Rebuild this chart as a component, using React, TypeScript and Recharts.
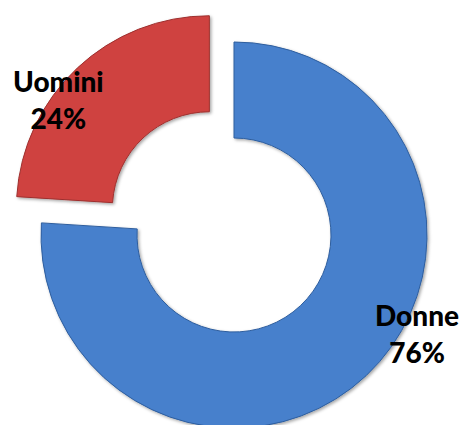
import { PieChart, Pie, Cell } from "recharts";

const categories = ["Donne", "Uomini"];
const shares = [76, 24];

const colors = ["#4680cc", "#cf4341"];
const edges = ["#2f5e9e", "#9e302e"];

// label offsets from each ring's centre (px)
const labelPos: Record<string, [number, number]> = {
    Donne: [183, 97],
    Uomini: [-151, -111],
};

const data = categories.map((name, i) => ({ name, value: shares[i] }));

const CX = 234;
const CY = 235;
const EXPLODE = 36;

function renderLabel(props: any) {
    const { cx, cy, name, percent } = props;
    const [dx, dy] = labelPos[name];
    return (
        <text
            x={cx + dx}
            y={cy + dy}
            textAnchor="middle"
            fill="#000"
            fontFamily="Lato, 'Open Sans', sans-serif"
            fontWeight={900}
            fontSize={28}
        >
            <tspan x={cx + dx} dy={-6}>{name}</tspan>
            <tspan x={cx + dx} dy={37}>{Math.round(percent * 100)}%</tspan>
        </text>
    );
}

export default function App() {
    // mid angle of the second slice, used to push it outwards
    const mid = 90 - 360 * (shares[0] + shares[1] / 2) / 100;
    const rad = (mid * Math.PI) / 180;
    const ox = Math.cos(rad) * EXPLODE;
    const oy = -Math.sin(rad) * EXPLODE;

    return (
        <div style={{ width: 462, height: 425, background: "#fff", overflow: "hidden" }}>
            <style>{"body{margin:0}"}</style>
            <PieChart width={462} height={425} margin={{ top: 0, right: 0, bottom: 0, left: 0 }}>
                <defs>
                    <filter id="shade" x="-10%" y="-10%" width="120%" height="120%">
                        <feDropShadow dx="1.5" dy="1.5" stdDeviation="1.5" floodColor="#000" floodOpacity="0.35" />
                    </filter>
                </defs>
                <Pie
                    data={data}
                    dataKey="value"
                    nameKey="name"
                    cx={CX}
                    cy={CY}
                    innerRadius={97}
                    outerRadius={193}
                    startAngle={90}
                    endAngle={-270}
                    isAnimationActive={false}
                    label={(p: any) => (p.index === 0 ? renderLabel(p) : null)}
                    labelLine={false}
                    filter="url(#shade)"
                >
                    {data.map((d, i) => (
                        <Cell
                            key={d.name}
                            fill={i === 0 ? colors[0] : "none"}
                            stroke={i === 0 ? edges[0] : "none"}
                            strokeWidth={1}
                        />
                    ))}
                </Pie>
                <Pie
                    data={data}
                    dataKey="value"
                    nameKey="name"
                    cx={CX + ox}
                    cy={CY + oy}
                    innerRadius={97}
                    outerRadius={193}
                    startAngle={90}
                    endAngle={-270}
                    isAnimationActive={false}
                    label={(p: any) => (p.index === 1 ? renderLabel(p) : null)}
                    labelLine={false}
                    filter="url(#shade)"
                >
                    {data.map((d, i) => (
                        <Cell
                            key={d.name}
                            fill={i === 1 ? colors[1] : "none"}
                            stroke={i === 1 ? edges[1] : "none"}
                            strokeWidth={1}
                        />
                    ))}
                </Pie>
            </PieChart>
        </div>
    );
}
